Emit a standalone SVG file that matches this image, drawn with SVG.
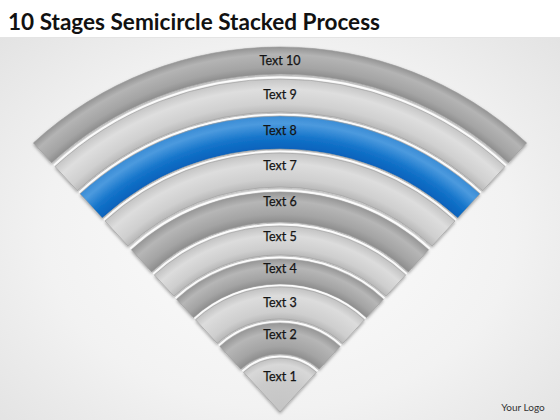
<svg xmlns="http://www.w3.org/2000/svg" width="560" height="420" viewBox="0 0 560 420">
<style>
.title{font-family:Lato,"Open Sans","Liberation Sans",sans-serif;font-weight:bold;font-size:23px;fill:#111}
.lbl{font-family:Lato,"Open Sans","Liberation Sans",sans-serif;font-size:12.5px;fill:#141414;text-anchor:middle;stroke:#141414;stroke-width:0.25}
.logo{font-family:Lato,"Open Sans","Liberation Sans",sans-serif;font-size:10px;fill:#333;text-anchor:middle}
.band{stroke:#9a9a9a;stroke-width:0.6;stroke-linejoin:round;filter:url(#sh)}
.hl{fill:none;stroke:#ffffff;stroke-width:1.8}
</style>
<defs>
<radialGradient id="bg" cx="50%" cy="55%" r="70%">
<stop offset="0" stop-color="#fdfdfd"/><stop offset="0.6" stop-color="#f2f2f2"/><stop offset="1" stop-color="#e2e2e2"/>
</radialGradient>
<filter id="sh" x="-10%" y="-10%" width="120%" height="130%">
<feDropShadow dx="0" dy="1.5" stdDeviation="1.4" flood-color="#000" flood-opacity="0.35"/>
</filter>
<radialGradient id="g10" gradientUnits="userSpaceOnUse" cx="280" cy="412" r="365">
<stop offset="0.926" stop-color="#8e8e8e"/><stop offset="0.945" stop-color="#a4a4a4"/><stop offset="0.98" stop-color="#b4b4b4"/><stop offset="1" stop-color="#949494"/>
</radialGradient>
<radialGradient id="g9" gradientUnits="userSpaceOnUse" cx="280" cy="412" r="333">
<stop offset="0.901" stop-color="#bababa"/><stop offset="0.925" stop-color="#d0d0d0"/><stop offset="0.97" stop-color="#dedede"/><stop offset="1" stop-color="#c6c6c6"/>
</radialGradient>
<radialGradient id="g8" gradientUnits="userSpaceOnUse" cx="280" cy="412" r="296">
<stop offset="0.889" stop-color="#0862bc"/><stop offset="0.93" stop-color="#1474ca"/><stop offset="0.975" stop-color="#4c9ade"/><stop offset="1" stop-color="#3a8cd5"/>
</radialGradient>
<radialGradient id="g7" gradientUnits="userSpaceOnUse" cx="280" cy="412" r="259">
<stop offset="0.869" stop-color="#b8b8b8"/><stop offset="0.9" stop-color="#cfcfcf"/><stop offset="0.96" stop-color="#dddddd"/><stop offset="1" stop-color="#c4c4c4"/>
</radialGradient>
<radialGradient id="g6" gradientUnits="userSpaceOnUse" cx="280" cy="412" r="220">
<stop offset="0.864" stop-color="#8e8e8e"/><stop offset="0.9" stop-color="#a4a4a4"/><stop offset="0.96" stop-color="#b6b6b6"/><stop offset="1" stop-color="#969696"/>
</radialGradient>
<radialGradient id="g5" gradientUnits="userSpaceOnUse" cx="280" cy="412" r="186">
<stop offset="0.844" stop-color="#b8b8b8"/><stop offset="0.88" stop-color="#cecece"/><stop offset="0.95" stop-color="#dcdcdc"/><stop offset="1" stop-color="#c2c2c2"/>
</radialGradient>
<radialGradient id="g4" gradientUnits="userSpaceOnUse" cx="280" cy="412" r="153">
<stop offset="0.837" stop-color="#8e8e8e"/><stop offset="0.88" stop-color="#a4a4a4"/><stop offset="0.95" stop-color="#b6b6b6"/><stop offset="1" stop-color="#969696"/>
</radialGradient>
<radialGradient id="g3" gradientUnits="userSpaceOnUse" cx="280" cy="412" r="125">
<stop offset="0.744" stop-color="#b8b8b8"/><stop offset="0.8" stop-color="#cecece"/><stop offset="0.93" stop-color="#dcdcdc"/><stop offset="1" stop-color="#c2c2c2"/>
</radialGradient>
<radialGradient id="g2" gradientUnits="userSpaceOnUse" cx="280" cy="412" r="89">
<stop offset="0.652" stop-color="#8e8e8e"/><stop offset="0.74" stop-color="#a4a4a4"/><stop offset="0.9" stop-color="#b6b6b6"/><stop offset="1" stop-color="#969696"/>
</radialGradient>
<radialGradient id="g1" gradientUnits="userSpaceOnUse" cx="280" cy="412" r="54">
<stop offset="0" stop-color="#c4c4c4"/><stop offset="0.6" stop-color="#cbcbcb"/><stop offset="0.88" stop-color="#d8d8d8"/><stop offset="1" stop-color="#c0c0c0"/>
</radialGradient>
</defs>

<rect x="0" y="0" width="560" height="420" fill="url(#bg)"/>
<rect x="0" y="0" width="560" height="37" fill="#ffffff"/>
<line x1="0" y1="37.5" x2="560" y2="37.5" stroke="#e4e4e4" stroke-width="1"/>
<text class="title" x="8" y="30" textLength="372" lengthAdjust="spacingAndGlyphs">10 Stages Semicircle Stacked Process</text>

<g id="node10">
<path class="band" fill="url(#g10)" d="M33.4,142.9 A365,365 0 0 1 526.6,142.9 L508.4,162.8 A338,338 0 0 0 51.6,162.8 Z"/>
<text class="lbl" x="280" y="65">Text 10</text>
</g>
<g id="node9">
<path class="hl" d="M54.0,165.4 A334.5,334.5 0 0 1 506.0,165.4"/>
<path class="band" fill="url(#g9)" d="M55.0,166.5 A333,333 0 0 1 505.0,166.5 L482.7,190.8 A300,300 0 0 0 77.3,190.8 Z"/>
<text class="lbl" x="280" y="99">Text 9</text>
</g>
<g id="node8">
<path class="hl" d="M79.0,192.7 A297.5,297.5 0 0 1 481.0,192.7"/>
<path class="band" fill="url(#g8)" d="M80.0,193.8 A296,296 0 0 1 480.0,193.8 L457.7,218.1 A263,263 0 0 0 102.3,218.1 Z"/>
<text class="lbl" x="280" y="135">Text 8</text>
</g>
<g id="node7">
<path class="hl" d="M104.0,219.9 A260.5,260.5 0 0 1 456.0,219.9"/>
<path class="band" fill="url(#g7)" d="M105.0,221.0 A259,259 0 0 1 455.0,221.0 L432.0,246.1 A225,225 0 0 0 128.0,246.1 Z"/>
<text class="lbl" x="280" y="170">Text 7</text>
</g>
<g id="node6">
<path class="hl" d="M130.4,248.7 A221.5,221.5 0 0 1 429.6,248.7"/>
<path class="band" fill="url(#g6)" d="M131.4,249.8 A220,220 0 0 1 428.6,249.8 L408.4,271.9 A190,190 0 0 0 151.6,271.9 Z"/>
<text class="lbl" x="280" y="206">Text 6</text>
</g>
<g id="node5">
<path class="hl" d="M153.3,273.8 A187.5,187.5 0 0 1 406.7,273.8"/>
<path class="band" fill="url(#g5)" d="M154.3,274.9 A186,186 0 0 1 405.7,274.9 L386.1,296.2 A157,157 0 0 0 173.9,296.2 Z"/>
<text class="lbl" x="280" y="241">Text 5</text>
</g>
<g id="node4">
<path class="hl" d="M175.6,298.1 A154.5,154.5 0 0 1 384.4,298.1"/>
<path class="band" fill="url(#g4)" d="M176.6,299.2 A153,153 0 0 1 383.4,299.2 L366.5,317.6 A128,128 0 0 0 193.5,317.6 Z"/>
<text class="lbl" x="280" y="273">Text 4</text>
</g>
<g id="node3">
<path class="hl" d="M194.5,318.7 A126.5,126.5 0 0 1 365.5,318.7"/>
<path class="band" fill="url(#g3)" d="M195.5,319.8 A125,125 0 0 1 364.5,319.8 L342.8,343.4 A93,93 0 0 0 217.2,343.4 Z"/>
<text class="lbl" x="280" y="307">Text 3</text>
</g>
<g id="node2">
<path class="hl" d="M218.9,345.3 A90.5,90.5 0 0 1 341.1,345.3"/>
<path class="band" fill="url(#g2)" d="M219.9,346.4 A89,89 0 0 1 340.1,346.4 L319.2,369.2 A58,58 0 0 0 240.8,369.2 Z"/>
<text class="lbl" x="280" y="339">Text 2</text>
</g>
<g id="node1">
<path class="hl" d="M242.5,371.1 A55.5,55.5 0 0 1 317.5,371.1"/>
<path class="band" fill="url(#g1)" d="M243.5,372.2 A54,54 0 0 1 316.5,372.2 L280,412 Z"/>
<text class="lbl" x="280" y="381">Text 1</text>
</g>

<g id="connectors"></g>

<text class="logo" x="523" y="411">Your Logo</text>
</svg>
